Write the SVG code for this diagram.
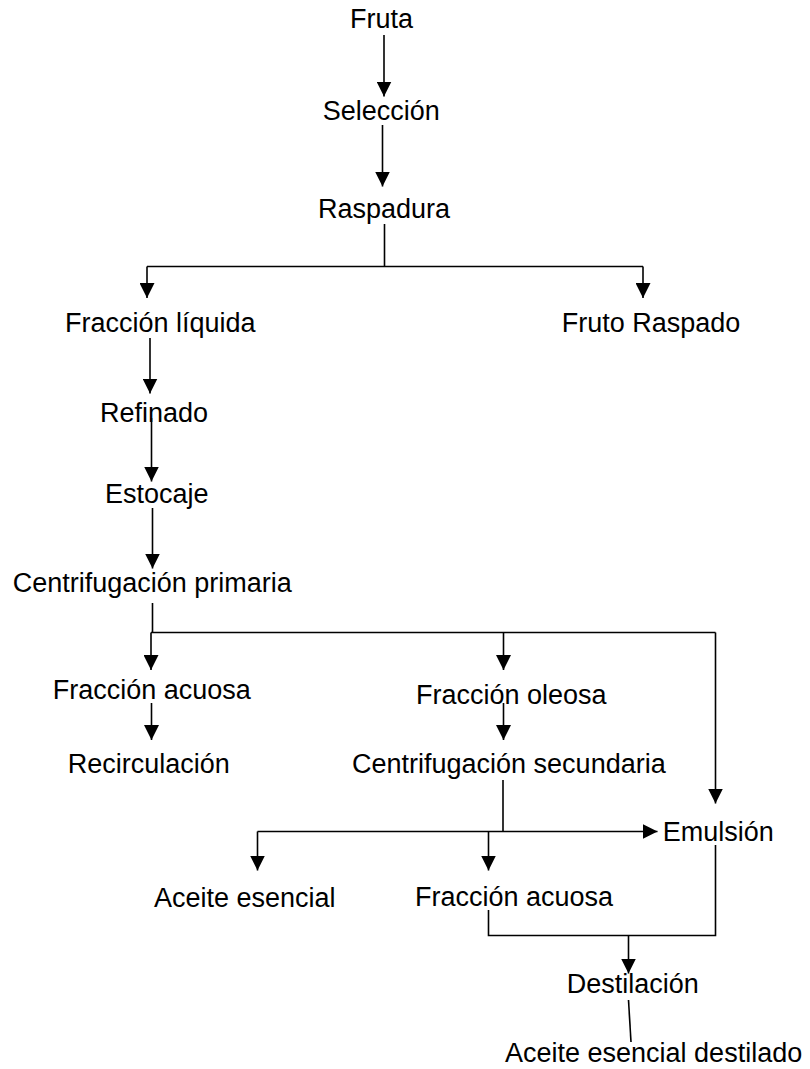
<svg xmlns="http://www.w3.org/2000/svg" width="810" height="1069" viewBox="0 0 810 1069">
<style>
text{font-family:"Liberation Sans",Arial,sans-serif;font-size:27px;fill:#000}
.c{fill:none;stroke:#000;stroke-width:1.6}
.a{marker-end:url(#ah)}
</style>
<defs>
<marker id="ah" markerUnits="userSpaceOnUse" markerWidth="15" markerHeight="15" refX="14" refY="7" orient="auto" viewBox="0 0 14 14">
<path d="M0,0 L14,7 L0,14 z" fill="#000"/>
</marker>
</defs>
<rect width="810" height="1069" fill="#fff"/>
<g id="connectors">
<path class="c a" d="M384,35 V96.5"/>
<path class="c a" d="M382.5,125 V186.5"/>
<path class="c" d="M384.5,224 V266.5 M147,266.5 H643"/>
<path class="c a" d="M147,266.5 V298"/>
<path class="c a" d="M643,266.5 V298"/>
<path class="c a" d="M150,338 V393.5"/>
<path class="c a" d="M151.5,418 V481.5"/>
<path class="c a" d="M152.5,508 V568.5"/>
<path class="c" d="M152.5,603 V632.5 M151,632.5 H715.5"/>
<path class="c a" d="M151,632.5 V670"/>
<path class="c a" d="M503.5,632.5 V670"/>
<path class="c a" d="M715.5,632.5 V803.5"/>
<path class="c a" d="M151.5,703 V740"/>
<path class="c a" d="M503.5,703 V740"/>
<path class="c" d="M503,780 V831.5"/>
<path class="c a" d="M257.5,831.5 H657.5"/>
<path class="c a" d="M257.5,831.5 V870.5"/>
<path class="c a" d="M488.5,831.5 V870.5"/>
<path class="c" d="M715.5,845 V935.5 H488.5 V910"/>
<path class="c a" d="M628.5,935.5 V973.5"/>
<path class="c" d="M628.5,1000 L631,1042"/>
</g>
<g id="n-fruta"><text x="350" y="28">Fruta</text></g>
<g id="n-seleccion"><text x="322.7" y="120">Selección</text></g>
<g id="n-raspadura"><text x="318" y="218">Raspadura</text></g>
<g id="n-fraccion-liquida"><text x="65" y="332">Fracción líquida</text></g>
<g id="n-fruto-raspado"><text x="561.7" y="332">Fruto Raspado</text></g>
<g id="n-refinado"><text x="100" y="421.7">Refinado</text></g>
<g id="n-estocaje"><text x="105" y="503">Estocaje</text></g>
<g id="n-centrif-primaria"><text x="12.7" y="591.7">Centrifugación primaria</text></g>
<g id="n-fraccion-acuosa-1"><text x="52.7" y="699">Fracción acuosa</text></g>
<g id="n-fraccion-oleosa"><text x="416" y="704">Fracción oleosa</text></g>
<g id="n-recirculacion"><text x="67.7" y="773.3">Recirculación</text></g>
<g id="n-centrif-secundaria"><text x="352" y="773.3">Centrifugación secundaria</text></g>
<g id="n-emulsion"><text x="662.7" y="840.7">Emulsión</text></g>
<g id="n-aceite-esencial"><text x="154" y="907.3">Aceite esencial</text></g>
<g id="n-fraccion-acuosa-2"><text x="415" y="905.7">Fracción acuosa</text></g>
<g id="n-destilacion"><text x="566.7" y="993.3">Destilación</text></g>
<g id="n-aceite-destilado"><text x="505" y="1062">Aceite esencial destilado</text></g>
</svg>
